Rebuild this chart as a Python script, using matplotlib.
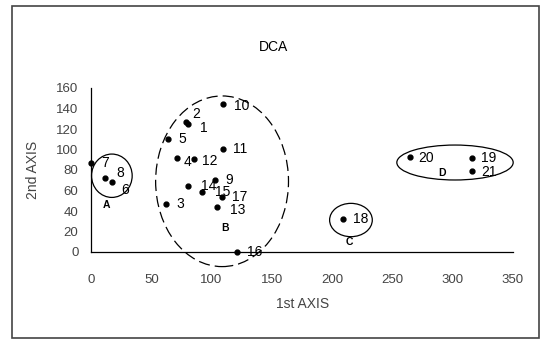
import matplotlib.pyplot as plt
from matplotlib.patches import Ellipse, Rectangle

plt.rcParams['font.family'] = ['Liberation Sans', 'DejaVu Sans']

# sample scores on the first two DCA axes
names = ['1', '2', '3', '4', '5', '6', '7', '8', '9', '10', '11',
         '12', '13', '14', '15', '16', '17', '18', '19', '20', '21']
axis1 = [80.7, 78.8, 62.2, 71, 64.1, 17.1, 0, 11.6, 102.8, 109.2, 109.2,
         85.7, 104.2, 80.2, 92.3, 120.8, 108.9, 208.7, 316, 264.3, 316]
axis2 = [124.9, 127, 46.8, 92, 110, 68.6, 86.5, 71.9, 70.2, 144.1, 100.2,
         90.7, 44.2, 64.4, 58.2, 0.3, 53.4, 31.9, 91.7, 93, 78.7]

# groups drawn as ellipses
groups = ['A', 'B', 'C', 'D']
grp_x = [17.3, 108.7, 215.6, 301.9]
grp_y = [74.4, 69, 31.2, 87.3]
grp_w = [33.7, 110.2, 35.4, 96.5]
grp_h = [42.3, 166.5, 32.5, 34.1]
grp_lx = [12.9, 111.5, 214.5, 291.3]
grp_ly = [45.9, 23.1, 10, 76.8]

xticks = [0, 50, 100, 150, 200, 250, 300, 350]
yticks = [0, 20, 40, 60, 80, 100, 120, 140, 160]

# label offsets in pixels (default right of the point)
offsets = {'2': (6, 8), '1': (12, -4), '4': (7, -4), '8': (11, 5),
           '6': (10, -8), '14': (13, 0), '15': (13, 0), '13': (13, -3),
           '12': (8, -2), '10': (11, -2), '17': (10, 0), '20': (9, -1),
           '19': (9, 0), '21': (9, -1)}

fig = plt.figure(figsize=(5.45, 3.39), dpi=100)
ax = fig.add_axes([91/545, 1-252/339, 422/545, 164/339])

ax.plot(axis1, axis2, 'o', color='black', ms=3.5, clip_on=False, zorder=3)
for n, x, y in zip(names, axis1, axis2):
    dx, dy = offsets.get(n, (10, 0))
    ax.annotate(n, (x, y), xytext=(dx, dy), textcoords='offset pixels',
                ha='left', va='center', fontsize=10, annotation_clip=False)

for i in range(len(groups)):
    ls = (0, (9, 4)) if groups[i] == 'B' else '-'
    e = Ellipse((grp_x[i], grp_y[i]), grp_w[i], grp_h[i], fill=False,
                edgecolor='black', lw=0.9, ls=ls, clip_on=False)
    ax.add_patch(e)
    ax.text(grp_lx[i], grp_ly[i], groups[i], ha='center', va='center',
            fontsize=7.5, fontweight='bold')

ax.set_xlim(0, 350)
ax.set_ylim(0, 160)
ax.set_xticks(xticks)
ax.set_yticks(yticks)
ax.tick_params(length=0, labelsize=9.5, labelcolor='#444444')
ax.tick_params(axis='x', pad=16)
ax.tick_params(axis='y', pad=9)
for s in ['top', 'right']:
    ax.spines[s].set_visible(False)
for s in ['left', 'bottom']:
    ax.spines[s].set_linewidth(0.9)

fig.text(273/545, 1-47/339, 'DCA', ha='center', va='center', fontsize=10)
fig.text(303/545, 1-304/339, '1st AXIS', ha='center', va='center',
         fontsize=10, color='#444444')
fig.text(33/545, 1-170/339, '2nd AXIS', ha='center', va='center',
         rotation=90, fontsize=10, color='#444444')

fig.patches.append(Rectangle((12/545, 1/339), 527/545, 332/339,
                             transform=fig.transFigure, fill=False,
                             edgecolor='#444444', lw=1.2))

fig.savefig('out.png', dpi=100)
